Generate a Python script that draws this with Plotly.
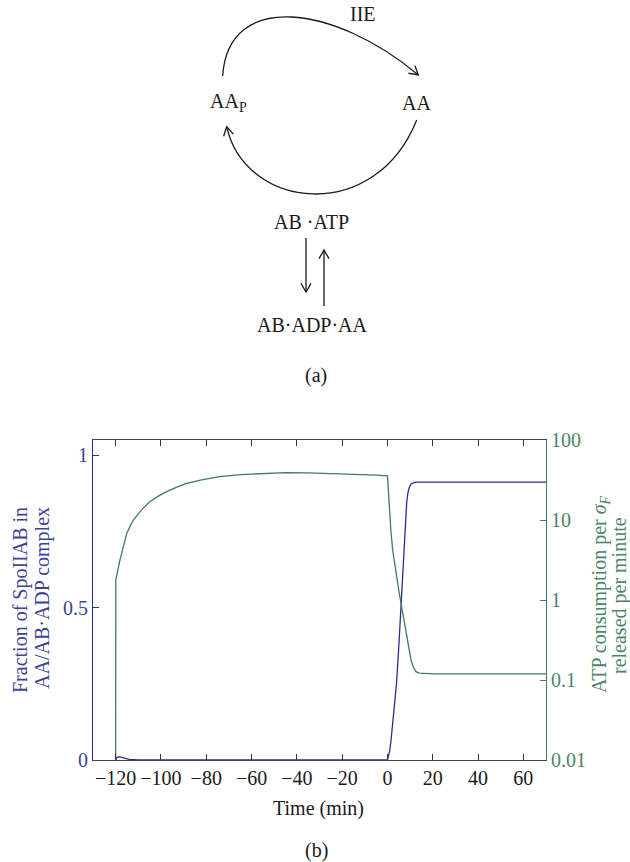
import numpy as np
import plotly.graph_objects as go

# ---------------- data ----------------
t_frac = [-120, -119.5, -118.5, -117.5, -116, -114, -110, -100, -50, 0,
          0.5, 1, 1.6, 2.2, 3.1, 4, 5, 6, 7, 8, 8.5, 9, 9.7, 10.5, 12, 14, 20, 70]
frac = [0, 0.008, 0.011, 0.009, 0.005, 0.002, 0.0005, 0, 0, 0,
        0.012, 0.03, 0.066, 0.11, 0.18, 0.25, 0.37, 0.51, 0.65, 0.79, 0.845, 0.875,
        0.896, 0.906, 0.911, 0.912, 0.912, 0.912]

t_atp = [-120, -119.95, -118.1, -116.5, -115.1, -113.5, -112.2, -108.5, -104.8, -101,
         -97.5, -93, -88.7, -81, -74, -65, -55, -45, -35, -25, -15, -5, 0,
         0.9, 1.5, 2.3, 3.3, 4.5, 5.2, 6, 7, 8.2, 9.3, 10.4, 11.5, 12.6, 14, 16.3, 20, 70]
atp = [0.01, 1.78, 3.16, 5.0, 6.8, 8.5, 10, 13.5, 17, 20,
       22.6, 25.8, 28.7, 32.2, 34.8, 37, 38.3, 39, 38.8, 38.2, 37.4, 36.3, 35.6,
       13.3, 7.5, 4.2, 2.6, 1.6, 1.22, 0.91, 0.62, 0.42, 0.28, 0.178, 0.143, 0.127,
       0.122, 0.12, 0.119, 0.119]

x_ticks = [-120, -100, -80, -60, -40, -20, 0, 20, 40, 60]
x_ticktext = ["\u2212120", "\u2212100", "\u221280", "\u221260", "\u221240", "\u221220",
              "0", "20", "40", "60"]
y1_ticks = [0, 0.5, 1]
y1_ticktext = ["0", "0.5", "1"]
y2_ticks = [0.01, 0.1, 1, 10, 100]
y2_ticktext = ["0.01", "0.1", "1", "10", "100"]

# ---------------- style ----------------
W, H = 630, 862
BLUE = "#262f8e"
BLUE_TXT = "#3b4493"
GREEN = "#3f7d5e"
GREEN_TXT = "#4b8565"
INK = "#1a1a1a"
FONT = "Liberation Serif"
FS = 20

L, R, T, B = 93, 546, 440, 760  # plot box in pixels

fig = go.Figure()
fig.add_trace(go.Scatter(x=t_frac, y=frac, mode="lines",
                         line=dict(color=BLUE, width=1.3), showlegend=False))
fig.add_trace(go.Scatter(x=t_atp, y=atp, mode="lines", yaxis="y2",
                         line=dict(color=GREEN, width=1.3), showlegend=False))

axis_font = dict(family=FONT, size=FS)
fig.update_layout(
    template="none",
    width=W, height=H,
    margin=dict(l=0, r=0, t=0, b=0, pad=0, autoexpand=False),
    paper_bgcolor="white", plot_bgcolor="white",
    showlegend=False,
    xaxis=dict(domain=[L / W, R / W], range=[-130, 70], tickvals=x_ticks,
               ticktext=x_ticktext, ticks="inside", ticklen=6, tickwidth=1.2,
               tickcolor="#333",
               showline=True, linecolor="#444", linewidth=1.2, mirror="ticks",
               showgrid=False, zeroline=False, anchor="y", automargin=False,
               tickfont=dict(axis_font, color=INK)),
    yaxis=dict(domain=[(H - B) / H, (H - T) / H], range=[0, 1.05],
               tickvals=y1_ticks, ticktext=y1_ticktext, ticks="inside", ticklen=6,
               tickwidth=1.2,
               tickcolor=BLUE, showline=True, linecolor=BLUE, linewidth=1.2,
               showgrid=False, zeroline=False, anchor="x", automargin=False,
               tickfont=dict(axis_font, color=BLUE_TXT)),
    yaxis2=dict(overlaying="y", side="right", type="log", range=[-2, 2],
                tickvals=y2_ticks, ticktext=y2_ticktext, ticks="inside", ticklen=6,
                tickwidth=1.2,
                tickcolor=GREEN, showline=True, linecolor=GREEN, linewidth=1.2,
                showgrid=False, zeroline=False, anchor="x", automargin=False,
                tickfont=dict(axis_font, color=GREEN_TXT)),
)


def px(x, y):
    return x / W, 1 - y / H


def txt(x, y, s, color=INK, angle=0, size=FS):
    xx, yy = px(x, y)
    fig.add_annotation(x=xx, y=yy, xref="paper", yref="paper", text=s, showarrow=False,
                       textangle=angle, xanchor="center", yanchor="middle",
                       font=dict(family=FONT, size=size, color=color))


def P(pt):
    xx, yy = px(*pt)
    return f"{xx:.5f},{yy:.5f}"


def head(tip, direction, length=10, half=30):
    d = np.array(direction, float)
    d = d / np.linalg.norm(d)
    pts = []
    for a in (half, -half):
        r = np.radians(a)
        rot = np.array([[np.cos(r), -np.sin(r)], [np.sin(r), np.cos(r)]])
        pts.append(np.array(tip, float) - length * rot @ d)
    return f"M {P(pts[0])} L {P(tip)} L {P(pts[1])}"


def path(p):
    fig.add_shape(type="path", path=p, xref="paper", yref="paper",
                  line=dict(color=INK, width=1.3), fillcolor="rgba(0,0,0,0)")


# top arc AAp -> AA
p0, p1, p2, p3 = (222.7, 76), (228, -10), (335, 5), (418.3, 75)
path(f"M {P(p0)} C {P(p1)} {P(p2)} {P(p3)}")
path(head(p3, (p3[0] - p2[0], p3[1] - p2[1])))
# bottom arc AA -> AAp
q0, q1, q2, q3 = (416.7, 120), (375, 225), (245, 210), (226.7, 126.7)
path(f"M {P(q0)} C {P(q1)} {P(q2)} {P(q3)}")
path(head(q3, (q3[0] - q2[0], q3[1] - q2[1])))
# vertical arrows
path(f"M {P((306, 238))} L {P((306, 292))}")
path(head((306, 292), (0, 1)))
path(f"M {P((324, 306))} L {P((324, 250))}")
path(head((324, 250), (0, -1)))

txt(363, 14, "IIE")
txt(228, 103, "AA<sub>P</sub>")
txt(416, 103, "AA")
txt(311, 222, "AB \u00b7ATP")
txt(312, 325, "AB\u00b7ADP\u00b7AA")
txt(316, 375, "(a)")
txt(318, 808, "Time (min)")
txt(316, 850, "(b)")
txt(20, 600, "Fraction of SpoIIAB in", color=BLUE_TXT, angle=-90)
txt(42, 598, "AA/AB\u00b7ADP complex", color=BLUE_TXT, angle=-90)
txt(600, 594, "ATP consumption per <i>\u03c3<sub>F</sub></i>", color=GREEN_TXT, angle=-90)
txt(619, 596, "released per minute", color=GREEN_TXT, angle=-90)

# remove the browser's default 8px page margin so figure pixels map to window pixels
fig.write_html("out.html", config={"displayModeBar": False},
               post_script="document.body.style.margin='0';")
